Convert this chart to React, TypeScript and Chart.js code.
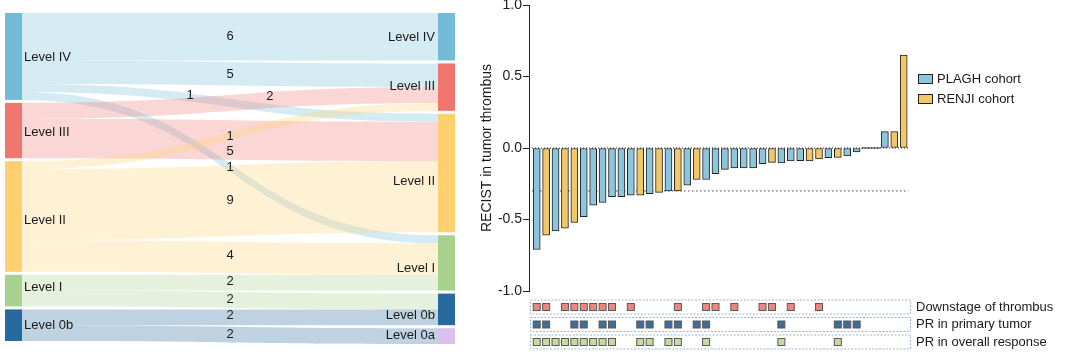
import React, { useEffect, useRef } from 'react';
import { Chart, registerables } from 'chart.js';

Chart.register(...registerables);

const FONT = '"Liberation Sans", Arial, Helvetica, sans-serif';
Chart.defaults.font.family = FONT;

// ---------------- Sankey data ----------------
const levelNames = ['Level IV', 'Level III', 'Level II', 'Level I', 'Level 0b', 'Level 0a'];
const leftLevels = [0, 1, 2, 3, 4];
const rightLevels = [0, 1, 2, 3, 4, 5];
const flowFrom = [0, 0, 0, 0, 1, 1, 2, 2, 2, 3, 3, 4, 4];
const flowTo = [0, 1, 2, 3, 1, 2, 1, 2, 3, 3, 4, 4, 5];
const flowSize = [6, 3, 1, 1, 2, 5, 1, 9, 4, 2, 2, 2, 2];
const flowText = ['6', '5', '1', '1', '2', '5', '1', '9', '4', '2', '2', '2', '2'];

// ---------------- Waterfall data ----------------
const recist = [
  -0.71, -0.61, -0.58, -0.56, -0.52, -0.48, -0.40, -0.38, -0.34, -0.34,
  -0.33, -0.33, -0.32, -0.31, -0.30, -0.30, -0.26, -0.22, -0.22, -0.18,
  -0.15, -0.14, -0.14, -0.14, -0.11, -0.10, -0.105, -0.09, -0.088, -0.09,
  -0.077, -0.068, -0.066, -0.055, -0.028, 0, 0, 0.115, 0.115, 0.65,
];
const cohort = [
  'P', 'R', 'P', 'R', 'R', 'P', 'P', 'P', 'P', 'P',
  'P', 'R', 'P', 'R', 'P', 'R', 'P', 'R', 'P', 'P',
  'P', 'P', 'P', 'P', 'P', 'R', 'P', 'P', 'P', 'R',
  'R', 'P', 'R', 'P', 'P', 'P', 'P', 'P', 'R', 'R',
];
const cohortNames = ['PLAGH cohort', 'RENJI cohort'];
const cohortKeys = ['P', 'R'];
const threshold = -0.3;
const yTicks = [-1, -0.5, 0, 0.5, 1];

const rowNames = ['Downstage of thrombus', 'PR in primary tumor', 'PR in overall response'];
const downstage = [1, 2, 4, 5, 6, 7, 8, 9, 11, 16, 19, 20, 22, 25, 26, 28, 31];
const prPrimary = [1, 2, 5, 6, 8, 9, 12, 13, 15, 16, 18, 19, 27, 33, 34, 35];
const prOverall = [1, 2, 3, 4, 5, 6, 7, 8, 9, 12, 13, 15, 16, 19, 27, 33];
const rowMembers = [downstage, prPrimary, prOverall];

// ---------------- Styles ----------------
const levelColors = ['#74bcd6', '#f0766f', '#fed06f', '#a9d18e', '#276b9e', '#dcc0eb'];
const flowAlpha = 0.3;
const nodeWidth = 17;
const nodeGap = 0.38;
const flowLabelT = [0.5, 0.5, 0.375, 0.5, 0.625, 0.5, 0.5, 0.5, 0.5, 0.5, 0.5, 0.5, 0.5];
const flowLabelDy = [0, 1, -2, 0, -4, 11, 0, 0, -2, -1, -1, -2, 0];
const leftLabelDy = [1, 2, 4, -3, 0];
const rightLabelDy = [1, -1, 8, 5, 6, -1];

const barColors = ['#8cc5dc', '#f3c766'];
const barBorder = '#222222';
const rowColors = ['#ea887e', '#3c6e9d', '#c6da9c'];
const textColor = '#1a1a1a';

function rgba(hex: string, a: number) {
  const n = parseInt(hex.slice(1), 16);
  return `rgba(${(n >> 16) & 255},${(n >> 8) & 255},${n & 255},${a})`;
}

const sankeyPlugin = {
  id: 'sankeyDraw',
  afterDraw(chart: any) {
    const { ctx } = chart;
    const xs = chart.scales.x;
    const ys = chart.scales.y;
    const leftRange: Record<number, number[]> = {};
    const rightRange: Record<number, number[]> = {};
    let u = 0;
    leftLevels.forEach((n) => {
      const tot = flowSize.reduce((s, v, i) => (flowFrom[i] === n ? s + v : s), 0);
      leftRange[n] = [u, u + tot];
      u += tot + nodeGap;
    });
    u = 0;
    rightLevels.forEach((n) => {
      const tot = flowSize.reduce((s, v, i) => (flowTo[i] === n ? s + v : s), 0);
      rightRange[n] = [u, u + tot];
      u += tot + nodeGap;
    });
    const outCur: Record<number, number> = {};
    const inCur: Record<number, number> = {};
    leftLevels.forEach((n) => (outCur[n] = leftRange[n][0]));
    rightLevels.forEach((n) => (inCur[n] = rightRange[n][0]));

    const xL = xs.getPixelForValue(0);
    const xR = xs.getPixelForValue(1);
    const x0 = xL + nodeWidth;
    const x1 = xR - nodeWidth;
    const xm = (x0 + x1) / 2;
    const labels: any[] = [];

    ctx.save();
    flowSize.forEach((v, i) => {
      const s = flowFrom[i];
      const t = flowTo[i];
      const s0 = ys.getPixelForValue(outCur[s]);
      const s1 = ys.getPixelForValue(outCur[s] + v);
      const t0 = ys.getPixelForValue(inCur[t]);
      const t1 = ys.getPixelForValue(inCur[t] + v);
      outCur[s] += v;
      inCur[t] += v;
      ctx.beginPath();
      ctx.moveTo(x0, s0);
      ctx.bezierCurveTo(xm, s0, xm, t0, x1, t0);
      ctx.lineTo(x1, t1);
      ctx.bezierCurveTo(xm, t1, xm, s1, x0, s1);
      ctx.closePath();
      ctx.fillStyle = rgba(levelColors[s], flowAlpha);
      ctx.fill();
      const tt = flowLabelT[i];
      const sc = (s0 + s1) / 2;
      const tc = (t0 + t1) / 2;
      const a = (1 - tt) ** 3, b = 3 * (1 - tt) ** 2 * tt, c = 3 * (1 - tt) * tt * tt, d = tt ** 3;
      labels.push({
        x: a * x0 + b * xm + c * xm + d * x1,
        y: a * sc + b * sc + c * tc + d * tc + flowLabelDy[i],
        text: flowText[i],
      });
    });

    // nodes
    leftLevels.forEach((n) => {
      const y0 = ys.getPixelForValue(leftRange[n][0]);
      const y1 = ys.getPixelForValue(leftRange[n][1]);
      ctx.fillStyle = levelColors[n];
      ctx.fillRect(xL, y0, nodeWidth, y1 - y0);
    });
    rightLevels.forEach((n) => {
      const y0 = ys.getPixelForValue(rightRange[n][0]);
      const y1 = ys.getPixelForValue(rightRange[n][1]);
      ctx.fillStyle = levelColors[n];
      ctx.fillRect(x1, y0, nodeWidth, y1 - y0);
    });

    ctx.font = `13px ${FONT}`;
    ctx.fillStyle = textColor;
    ctx.textBaseline = 'middle';
    ctx.textAlign = 'left';
    leftLevels.forEach((n, k) => {
      const yc = (ys.getPixelForValue(leftRange[n][0]) + ys.getPixelForValue(leftRange[n][1])) / 2;
      ctx.fillText(levelNames[n], x0 + 2, yc + leftLabelDy[k]);
    });
    ctx.textAlign = 'right';
    rightLevels.forEach((n, k) => {
      const yc = (ys.getPixelForValue(rightRange[n][0]) + ys.getPixelForValue(rightRange[n][1])) / 2;
      ctx.fillText(levelNames[n], x1 - 3, yc + rightLabelDy[k]);
    });
    ctx.textAlign = 'center';
    labels.forEach((l) => ctx.fillText(l.text, l.x, l.y));
    ctx.restore();
  },
};

const waterfallPlugin = {
  id: 'waterfallExtras',
  beforeDatasetsDraw(chart: any) {
    const { ctx } = chart;
    const xs = chart.scales.x;
    const ys = chart.scales.y;
    const xa = xs.getPixelForValue(0.5);
    const xb = xs.getPixelForValue(recist.length + 0.5);
    const yt = ys.getPixelForValue(threshold);
    ctx.save();
    ctx.strokeStyle = '#9a9a9a';
    ctx.lineWidth = 1.6;
    ctx.setLineDash([1.6, 2.4]);
    ctx.beginPath();
    ctx.moveTo(xa, yt);
    ctx.lineTo(xb, yt);
    ctx.stroke();
    ctx.restore();
  },
  afterDatasetsDraw(chart: any) {
    const { ctx, chartArea } = chart;
    const xs = chart.scales.x;
    const ys = chart.scales.y;
    const xa = xs.getPixelForValue(0.5);
    const xb = xs.getPixelForValue(recist.length + 0.5);
    const y0 = ys.getPixelForValue(0);
    ctx.save();
    // zero-valued bars as solid segments
    ctx.strokeStyle = barBorder;
    ctx.lineWidth = 1;
    recist.forEach((v, i) => {
      if (v === 0) {
        const xc = xs.getPixelForValue(i + 1);
        ctx.beginPath();
        ctx.moveTo(xc - 4.7, y0);
        ctx.lineTo(xc + 4.7, y0);
        ctx.stroke();
      }
    });
    ctx.setLineDash([1, 2]);
    ctx.beginPath();
    ctx.moveTo(xa, y0);
    ctx.lineTo(xb, y0);
    ctx.stroke();
    ctx.setLineDash([]);

    // legend
    ctx.font = `13px ${FONT}`;
    ctx.textBaseline = 'middle';
    ctx.textAlign = 'left';
    cohortNames.forEach((name, k) => {
      const lx = chartArea.right + 8;
      const ly = chartArea.top + 69 + k * 20;
      ctx.fillStyle = barColors[k];
      ctx.fillRect(lx, ly, 15, 10);
      ctx.strokeStyle = barBorder;
      ctx.lineWidth = 1;
      ctx.strokeRect(lx + 0.5, ly + 0.5, 14, 9);
      ctx.fillStyle = textColor;
      ctx.fillText(name, lx + 19, ly + 5);
    });

    // annotation rows
    rowNames.forEach((name, r) => {
      const top = chartArea.bottom + 8.5 + r * 17.5;
      const h = 14;
      ctx.strokeStyle = '#9db5ce';
      ctx.lineWidth = 1;
      ctx.setLineDash([2, 1.5]);
      ctx.strokeRect(chartArea.left + 1.5, top + 0.5, chartArea.right - chartArea.left - 1, h);
      ctx.setLineDash([]);
      rowMembers[r].forEach((idx) => {
        const xc = xs.getPixelForValue(idx);
        ctx.fillStyle = rowColors[r];
        ctx.fillRect(xc - 3.5, top + 4, 7, 7);
        ctx.strokeStyle = '#5a5a5a';
        ctx.strokeRect(xc - 3.5, top + 4, 7, 7);
      });
      ctx.fillStyle = textColor;
      ctx.fillText(name, chartArea.right + 6, top + 7.5);
    });
    ctx.restore();
  },
};

export default function App() {
  const sankeyRef = useRef<HTMLCanvasElement | null>(null);
  const barRef = useRef<HTMLCanvasElement | null>(null);

  useEffect(() => {
    const unitsTotal =
      flowSize.reduce((s, v) => s + v, 0) + (rightLevels.length - 1) * nodeGap;
    const sankey = new Chart(sankeyRef.current as HTMLCanvasElement, {
      type: 'scatter',
      data: { datasets: [] },
      options: {
        responsive: false,
        animation: false,
        layout: { padding: { left: 5, right: 10, top: 13, bottom: 15 } },
        plugins: { legend: { display: false }, tooltip: { enabled: false } },
        scales: {
          x: { type: 'linear', min: 0, max: 1, display: false },
          y: { type: 'linear', min: 0, max: unitsTotal, reverse: true, display: false },
        },
      },
      plugins: [sankeyPlugin],
    } as any);

    const datasets = cohortKeys.map((key, k) => ({
      label: cohortNames[k],
      data: recist
        .map((v, i) => ({ x: i + 1, y: v, c: cohort[i] }))
        .filter((p) => p.c === key)
        .map((p) => ({ x: p.x, y: p.y })),
      backgroundColor: barColors[k],
      borderColor: barBorder,
      borderWidth: 1,
      borderSkipped: false,
      barThickness: 7,
      grouped: false,
    }));

    const bars = new Chart(barRef.current as HTMLCanvasElement, {
      type: 'bar',
      data: { datasets },
      options: {
        responsive: false,
        animation: false,
        layout: { padding: { left: 5, right: 157, top: 15, bottom: 68 } },
        plugins: { legend: { display: false }, tooltip: { enabled: false } },
        scales: {
          x: {
            type: 'linear',
            min: 0.18,
            max: 40.67,
            display: false,
            offset: false,
          },
          y: {
            min: -1,
            max: 1,
            afterFit: (scale: any) => {
              scale.width = 54;
            },
            afterBuildTicks: (scale: any) => {
              scale.ticks = yTicks.map((v) => ({ value: v }));
            },
            ticks: {
              callback: (v: any) => Number(v).toFixed(1),
              font: { size: 14 },
              color: textColor,
              padding: 1,
            },
            grid: {
              drawOnChartArea: false,
              drawTicks: true,
              tickLength: 6,
              tickColor: '#222',
            },
            border: { display: true, color: '#222', width: 1 },
            title: {
              display: true,
              text: 'RECIST in tumor thrombus',
              font: { size: 14 },
              color: textColor,
              padding: { top: 4, bottom: 4 },
            },
          },
        },
      },
      plugins: [waterfallPlugin],
    } as any);

    return () => {
      sankey.destroy();
      bars.destroy();
    };
  }, []);

  return (
    <div
      style={{
        position: 'fixed',
        left: 0,
        top: 0,
        width: 1067,
        height: 359,
        background: '#fff',
        overflow: 'hidden',
      }}
    >
      <canvas
        ref={sankeyRef}
        width={465}
        height={359}
        style={{ position: 'absolute', left: 0, top: 0, width: 465, height: 359 }}
      />
      <canvas
        ref={barRef}
        width={597}
        height={369}
        style={{ position: 'absolute', left: 470, top: -10, width: 597, height: 369 }}
      />
    </div>
  );
}
